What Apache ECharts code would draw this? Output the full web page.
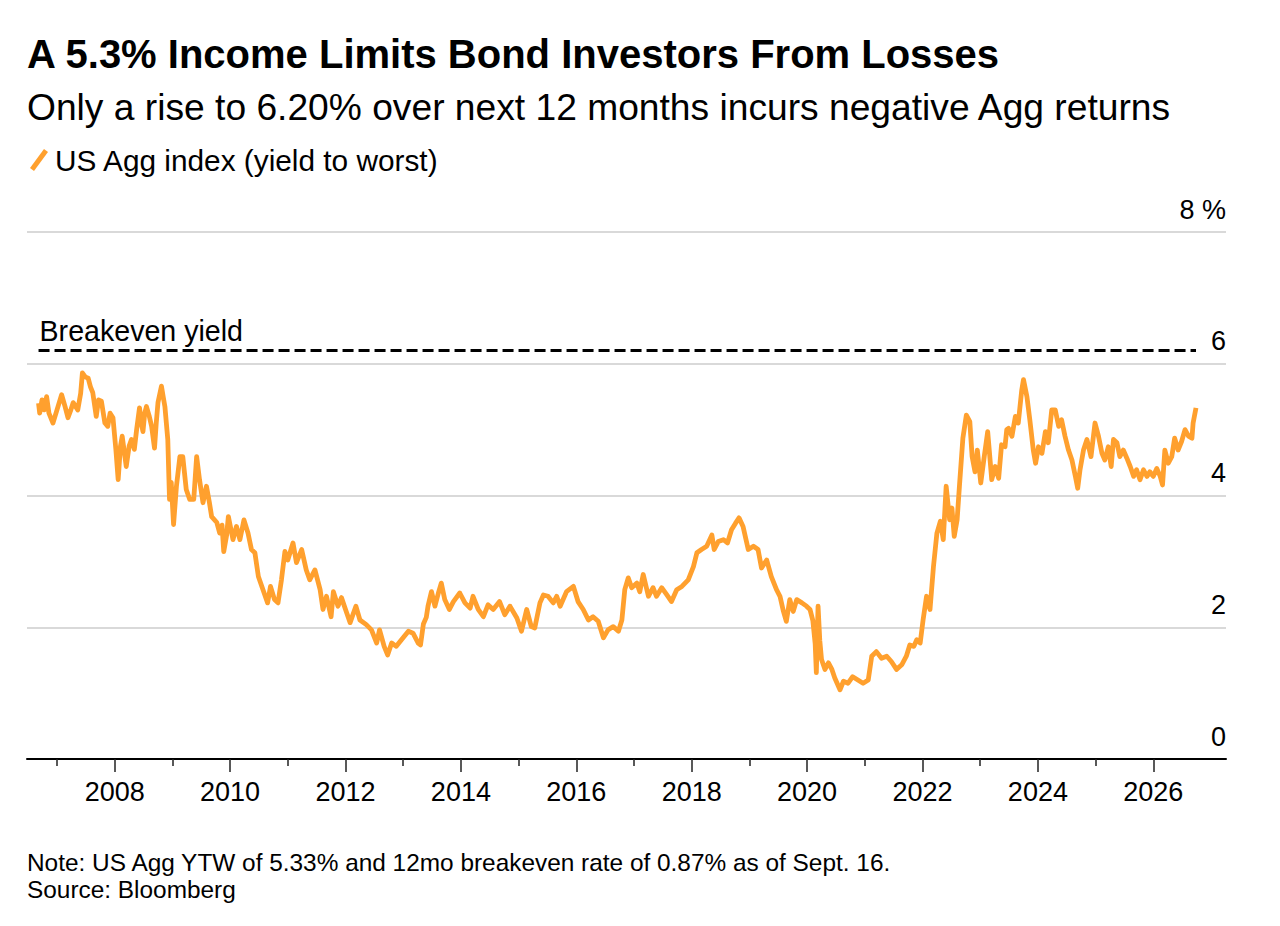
<!DOCTYPE html>
<html>
<head>
<meta charset="utf-8">
<script src="https://cdn.jsdelivr.net/npm/echarts@6/dist/echarts.min.js"></script>
<style>
html,body{margin:0;padding:0;background:#fff;}
#chart{width:1280px;height:926px;}
</style>
</head>
<body>
<div id="chart"></div>
<script>
// ---- Data ----
const years = [
2006.68,2006.70,2006.74,2006.78,2006.82,2006.86,2006.93,2007.00,2007.08,2007.14,2007.19,2007.24,2007.28,2007.36,2007.41,2007.44,2007.49,2007.54,2007.58,2007.62,2007.68,2007.72,2007.77,2007.83,2007.88,2007.92,2007.97,
2008.02,2008.06,2008.10,2008.13,2008.20,2008.25,2008.29,2008.34,2008.38,2008.43,2008.46,2008.49,2008.52,2008.55,2008.60,2008.64,2008.69,2008.72,2008.75,2008.81,2008.84,2008.87,2008.92,2008.95,2008.98,
2009.02,2009.07,2009.13,2009.18,2009.24,2009.30,2009.37,2009.42,2009.47,2009.53,2009.59,2009.64,2009.68,2009.77,2009.82,2009.86,2009.89,2009.94,2009.97,
2010.05,2010.11,2010.17,2010.24,2010.31,2010.37,2010.43,2010.49,2010.57,2010.65,2010.70,2010.77,2010.83,2010.89,2010.95,
2011.00,2011.09,2011.15,2011.24,2011.32,2011.38,2011.47,2011.56,2011.61,2011.67,2011.75,2011.79,2011.87,2011.93,
2012.02,2012.08,2012.18,2012.25,2012.36,2012.45,2012.54,2012.59,2012.67,2012.73,2012.80,2012.88,2012.97,
2013.09,2013.17,2013.26,2013.30,2013.35,2013.40,2013.43,2013.49,2013.55,2013.61,2013.66,2013.72,2013.80,2013.87,2013.98,
2014.07,2014.16,2014.21,2014.30,2014.39,2014.47,2014.56,2014.67,2014.76,2014.85,2014.97,
2015.05,2015.14,2015.22,2015.28,2015.37,2015.43,2015.51,2015.60,2015.66,2015.72,2015.83,2015.95,
2016.03,2016.12,2016.21,2016.29,2016.38,2016.47,2016.55,2016.64,2016.73,2016.79,2016.84,2016.90,2016.96,
2017.05,2017.10,2017.16,2017.25,2017.33,2017.39,2017.48,2017.57,2017.65,2017.74,2017.83,2017.94,
2018.03,2018.09,2018.17,2018.26,2018.35,2018.39,2018.46,2018.55,2018.62,2018.69,2018.76,2018.82,2018.89,2018.98,
2019.07,2019.15,2019.21,2019.30,2019.38,2019.47,2019.53,2019.59,2019.64,2019.70,2019.76,2019.82,2019.91,2019.99,
2020.05,2020.10,2020.14,2020.16,2020.19,2020.22,2020.25,2020.31,2020.37,2020.43,2020.48,2020.57,2020.63,2020.71,2020.79,2020.88,2020.97,
2021.06,2021.12,2021.20,2021.29,2021.38,2021.46,2021.55,2021.64,2021.72,2021.78,2021.85,2021.90,2021.96,
2022.01,2022.07,2022.13,2022.19,2022.25,2022.31,2022.36,2022.41,2022.47,2022.51,2022.55,2022.60,2022.64,2022.70,2022.76,2022.82,2022.86,2022.91,2022.95,
2023.01,2023.07,2023.13,2023.20,2023.26,2023.32,2023.37,2023.43,2023.46,2023.49,2023.55,2023.61,2023.66,2023.72,2023.75,2023.81,2023.86,2023.92,2023.96,
2024.01,2024.07,2024.13,2024.18,2024.24,2024.30,2024.36,2024.41,2024.47,2024.53,2024.59,2024.65,2024.69,2024.73,2024.79,2024.85,2024.92,2024.99,
2025.05,2025.11,2025.16,2025.22,2025.27,2025.31,2025.37,2025.42,2025.48,2025.54,2025.60,2025.66,2025.71,2025.77,2025.83,2025.89,2025.94,
2026.00,2026.06,2026.12,2026.16,2026.20,2026.26,2026.32,2026.37,2026.43,2026.49,2026.55,2026.61,2026.67,2026.69,2026.74
];
const ytw = [
5.40,5.25,5.45,5.30,5.50,5.25,5.10,5.30,5.53,5.35,5.18,5.30,5.41,5.30,5.55,5.86,5.80,5.78,5.65,5.56,5.20,5.45,5.43,5.10,5.05,5.25,5.18,
4.70,4.24,4.75,4.90,4.44,4.75,4.85,4.70,5.00,5.33,5.10,4.97,5.25,5.35,5.20,5.05,4.72,5.10,5.41,5.66,5.50,5.35,4.85,3.94,4.20,
3.56,4.14,4.59,4.59,4.09,3.94,3.94,4.59,4.24,3.89,4.14,3.90,3.68,3.59,3.43,3.55,3.15,3.40,3.68,
3.33,3.53,3.33,3.63,3.43,3.18,3.13,2.77,2.57,2.37,2.62,2.42,2.37,2.72,3.15,
3.02,3.28,2.98,3.18,2.87,2.72,2.87,2.57,2.27,2.47,2.16,2.54,2.32,2.45,
2.22,2.07,2.32,2.11,2.04,1.96,1.76,1.96,1.71,1.58,1.76,1.71,1.81,
1.94,1.91,1.76,1.73,2.05,2.15,2.32,2.54,2.32,2.52,2.67,2.42,2.27,2.39,2.52,
2.37,2.29,2.47,2.27,2.16,2.34,2.27,2.39,2.19,2.32,2.14,
1.94,2.27,2.01,1.99,2.37,2.49,2.47,2.37,2.47,2.32,2.54,2.62,
2.39,2.27,2.11,2.16,2.09,1.84,1.96,2.01,1.94,2.11,2.57,2.75,2.60,
2.67,2.54,2.80,2.47,2.60,2.47,2.60,2.49,2.39,2.57,2.62,2.72,
2.92,3.13,3.18,3.23,3.40,3.18,3.30,3.33,3.28,3.48,3.58,3.66,3.53,3.18,
3.23,3.18,2.90,3.02,2.77,2.57,2.47,2.24,2.09,2.42,2.24,2.42,2.37,2.32,
2.27,2.10,1.75,1.31,2.32,1.80,1.51,1.36,1.46,1.36,1.23,1.05,1.18,1.15,1.25,1.20,1.15,
1.20,1.56,1.63,1.53,1.56,1.48,1.36,1.43,1.56,1.73,1.71,1.81,1.76,
2.11,2.47,2.27,2.92,3.43,3.61,3.33,4.14,3.63,3.81,3.38,3.63,4.14,4.87,5.22,5.12,4.59,4.36,4.69,
4.19,4.59,4.97,4.24,4.44,4.26,4.77,4.74,5.00,5.02,4.90,5.20,5.10,5.60,5.76,5.50,5.15,4.69,4.49,
4.74,4.64,4.97,4.80,5.30,5.30,5.05,5.15,4.90,4.69,4.54,4.29,4.11,4.39,4.69,4.85,4.59,5.10,
4.90,4.64,4.54,4.74,4.44,4.85,4.80,4.59,4.69,4.57,4.44,4.29,4.39,4.24,4.39,4.29,4.36,
4.29,4.41,4.29,4.16,4.69,4.49,4.59,4.87,4.69,4.82,5.00,4.90,4.87,5.10,5.33
];
const breakevenYield = 6.2;
const majorTickYears = [2008,2010,2012,2014,2016,2018,2020,2022,2024,2026];
const minorTickYears = [2007,2009,2011,2013,2015,2017,2019,2021,2023,2025];
const yTickValues = [0,2,4,6,8];

const titleText = 'A 5.3% Income Limits Bond Investors From Losses';
const subtitleText = 'Only a rise to 6.20% over next 12 months incurs negative Agg returns';
const seriesName = 'US Agg index (yield to worst)';
const noteText = 'Note: US Agg YTW of 5.33% and 12mo breakeven rate of 0.87% as of Sept. 16.';
const sourceText = 'Source: Bloomberg';

// ---- Chart ----
const FONT = "'Liberation Sans', Arial, Helvetica, sans-serif";
const ORANGE = '#ffa02e';
const X_MIN = 2006.48, X_MAX = 2027.26;

const chart = echarts.init(document.getElementById('chart'), null, {renderer: 'svg'});
const lineData = years.map((y, i) => [y, ytw[i]]);

chart.setOption({
  animation: false,
  backgroundColor: '#fff',
  textStyle: {fontFamily: FONT},
  title: [
    {text: titleText, left: 27, top: 34, padding: 0,
     textStyle: {fontSize: 40, fontWeight: 'bold', color: '#000', fontFamily: FONT, lineHeight: 40}},
    {text: subtitleText, left: 27, top: 88, padding: 0,
     textStyle: {fontSize: 37.2, fontWeight: 'normal', color: '#000', fontFamily: FONT, lineHeight: 37}},
    {text: noteText, left: 27, top: 850, padding: 0,
     textStyle: {fontSize: 24.4, fontWeight: 'normal', color: '#000', fontFamily: FONT, lineHeight: 24}},
    {text: sourceText, left: 27, top: 877, padding: 0,
     textStyle: {fontSize: 24.4, fontWeight: 'normal', color: '#000', fontFamily: FONT, lineHeight: 24}}
  ],
  legend: {
    left: 30, top: 145, padding: 0,
    itemWidth: 18, itemHeight: 22,
    icon: 'path://M0,19 L14,0 L18,3 L4,22 Z',
    data: [{name: seriesName, icon: 'path://M0,19 L14,0 L18,3 L4,22 Z', itemStyle: {color: ORANGE}}],
    textStyle: {fontSize: 29.8, color: '#000', fontFamily: FONT, lineHeight: 29, padding: [0,0,0,2]},
    selectedMode: false
  },
  grid: {left: 27, right: 54, top: 232, bottom: 167, containLabel: false},
  xAxis: [
    {
      type: 'value', min: X_MIN, max: X_MAX,
      axisLine: {show: true, lineStyle: {color: '#000', width: 2}},
      axisTick: {show: true, customValues: minorTickYears, length: 7, lineStyle: {color: '#222', width: 1.5}},
      axisLabel: {show: false},
      splitLine: {show: false}
    },
    {
      type: 'value', min: X_MIN, max: X_MAX, position: 'bottom',
      axisLine: {show: false},
      axisTick: {show: true, customValues: majorTickYears, length: 13, lineStyle: {color: '#222', width: 1.5}},
      axisLabel: {show: true, customValues: majorTickYears, margin: 19, fontSize: 27, lineHeight: 27,
                  color: '#000', fontFamily: FONT, formatter: v => String(Math.round(v))},
      splitLine: {show: false}
    }
  ],
  yAxis: {
    type: 'value', min: 0, max: 8, interval: 2, position: 'right',
    axisLine: {show: false}, axisTick: {show: false},
    axisLabel: {
      show: true, inside: true, margin: 0, align: 'right', verticalAlign: 'bottom',
      fontSize: 27, lineHeight: 27, color: '#000', fontFamily: FONT, padding: [0,0,9,0],
      customValues: yTickValues,
      formatter: v => (v === 8 ? '8 %' : String(v))
    },
    splitLine: {show: true, lineStyle: {color: '#cccccc', width: 1.5}}
  },
  series: [{
    name: seriesName,
    type: 'line',
    xAxisIndex: 0,
    data: lineData,
    showSymbol: false,
    symbol: 'none',
    lineStyle: {color: ORANGE, width: 4.8, join: 'round'},
    itemStyle: {color: ORANGE},
    emphasis: {disabled: true},
    silent: true,
    z: 3,
    markLine: {
      silent: true,
      symbol: 'none',
      animation: false,
      lineStyle: {color: '#000', width: 3, type: [11, 5]},
      label: {show: true, position: 'insideStartTop', distance: [1, 5], formatter: 'Breakeven yield',
              fontSize: 28.6, color: '#000', fontFamily: FONT},
      emphasis: {disabled: true},
      data: [[{coord: [years[0], breakevenYield]}, {coord: [years[years.length - 1], breakevenYield]}]]
    }
  }]
});
</script>
</body>
</html>
